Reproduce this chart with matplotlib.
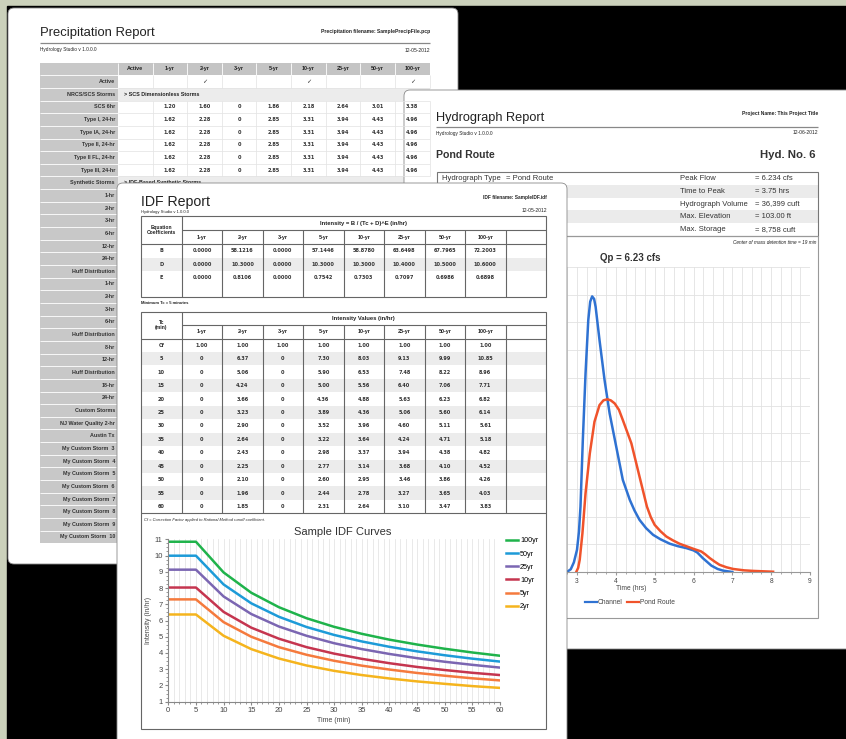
import numpy as np
import matplotlib
matplotlib.use("Agg")
import matplotlib.pyplot as plt
from matplotlib.patches import FancyBboxPatch, Rectangle

plt.rcParams['font.family'] = ['Liberation Sans', 'DejaVu Sans']

W, H = 846, 739

# ---------------- data ----------------
precip_cols = ["Active", "1-yr", "2-yr", "3-yr", "5-yr", "10-yr", "25-yr", "50-yr", "100-yr"]
precip_rows = ["Active", "NRCS/SCS Storms", "SCS 6hr", "Type I, 24-hr", "Type IA, 24-hr",
               "Type II, 24-hr", "Type II FL, 24-hr", "Type III, 24-hr", "Synthetic Storms",
               "1-hr", "2-hr", "3-hr", "6-hr", "12-hr", "24-hr", "Huff Distribution",
               "1-hr", "2-hr", "3-hr", "6-hr", "Huff Distribution", "8-hr", "12-hr",
               "Huff Distribution", "18-hr", "24-hr", "Custom Storms", "NJ Water Quality 2-hr",
               "Austin Tx", "My Custom Storm  3", "My Custom Storm  4", "My Custom Storm  5",
               "My Custom Storm  6", "My Custom Storm  7", "My Custom Storm  8",
               "My Custom Storm  9", "My Custom Storm  10"]
precip_sections = {"NRCS/SCS Storms": "> SCS Dimensionless Storms",
                   "Synthetic Storms": "> IDF-Based Synthetic Storms",
                   "Huff Distribution": "", "Custom Storms": ""}
precip_active = [False, False, True, False, False, True, False, False, True]
scs_6hr = ["", "1.20", "1.60", "0", "1.86", "2.18", "2.64", "3.01", "3.38"]
scs_24hr = ["", "1.62", "2.28", "0", "2.85", "3.31", "3.94", "4.43", "4.96"]
precip_values = {"SCS 6hr": scs_6hr, "Type I, 24-hr": scs_24hr, "Type IA, 24-hr": scs_24hr,
                 "Type II, 24-hr": scs_24hr, "Type II FL, 24-hr": scs_24hr,
                 "Type III, 24-hr": scs_24hr}

hyd_left = [("Hydrograph Type", "= Pond Route"), ("Storm frequency", "= 100 yrs"),
            ("Time interval", "= 2 min"), ("Inflow hyd. No.", "= 5 - Channel"),
            ("Reservoir name", "= Pond")]
hyd_right = [("Peak Flow", "= 6.234 cfs"), ("Time to Peak", "= 3.75 hrs"),
             ("Hydrograph Volume", "= 36,399 cuft"), ("Max. Elevation", "= 103.00 ft"),
             ("Max. Storage", "= 8,758 cuft")]

channel_t = [2.74, 2.84, 2.92, 3.00, 3.05, 3.09, 3.15, 3.22, 3.29, 3.34, 3.39, 3.44, 3.48,
             3.58, 3.71, 3.84, 4.01, 4.18, 4.36, 4.48, 4.61, 4.78, 4.96, 5.15, 5.39, 5.60,
             5.82, 6.00, 6.10, 6.24, 6.46, 6.62, 6.76, 7.00]
channel_q = [0.0, 0.10, 0.35, 0.80, 1.45, 2.36, 4.76, 7.16, 9.08, 9.75, 9.94, 9.85, 9.56,
             8.36, 6.92, 5.72, 4.52, 3.32, 2.60, 2.22, 1.88, 1.58, 1.34, 1.18, 1.02, 0.93,
             0.86, 0.78, 0.70, 0.50, 0.23, 0.11, 0.05, 0.0]
pond_t = [2.98, 3.03, 3.07, 3.14, 3.22, 3.33, 3.45, 3.58, 3.68, 3.78, 3.87, 3.97, 4.08,
          4.18, 4.40, 4.61, 4.80, 4.90, 5.00, 5.15, 5.30, 5.47, 5.64, 5.99, 6.20, 6.30,
          6.42, 6.55, 6.67, 6.85, 7.02, 7.30, 7.53, 8.05]
pond_q = [0.0, 0.15, 0.44, 1.40, 2.84, 4.28, 5.42, 6.02, 6.19, 6.23, 6.19, 6.08, 5.85,
          5.48, 4.64, 3.44, 2.36, 1.98, 1.70, 1.47, 1.28, 1.14, 1.02, 0.84, 0.74, 0.64,
          0.50, 0.37, 0.26, 0.17, 0.11, 0.06, 0.04, 0.01]

idf_cols = ["1-yr", "2-yr", "3-yr", "5-yr", "10-yr", "25-yr", "50-yr", "100-yr", ""]
coef_B = ["0.0000", "58.1216", "0.0000", "57.1446", "58.8780", "63.6498", "67.7965", "72.2003"]
coef_D = ["0.0000", "10.3000", "0.0000", "10.3000", "10.3000", "10.4000", "10.5000", "10.6000"]
coef_E = ["0.0000", "0.8106", "0.0000", "0.7542", "0.7303", "0.7097", "0.6986", "0.6898"]

tc = [5, 10, 15, 20, 25, 30, 35, 40, 45, 50, 55, 60]
i_2yr = [6.37, 5.06, 4.24, 3.66, 3.23, 2.90, 2.64, 2.43, 2.25, 2.10, 1.96, 1.85]
i_5yr = [7.30, 5.90, 5.00, 4.36, 3.89, 3.52, 3.22, 2.98, 2.77, 2.60, 2.44, 2.31]
i_10yr = [8.03, 6.53, 5.56, 4.88, 4.36, 3.96, 3.64, 3.37, 3.14, 2.95, 2.78, 2.64]
i_25yr = [9.13, 7.48, 6.40, 5.63, 5.06, 4.60, 4.24, 3.94, 3.68, 3.46, 3.27, 3.10]
i_50yr = [9.99, 8.22, 7.06, 6.23, 5.60, 5.11, 4.71, 4.38, 4.10, 3.86, 3.65, 3.47]
i_100yr = [10.85, 8.96, 7.71, 6.82, 6.14, 5.61, 5.18, 4.82, 4.52, 4.26, 4.03, 3.83]

# ---------------- helpers ----------------
fig = plt.figure(figsize=(W / 100, H / 100), dpi=100)


def px(x0, y0, x1, y1):
    return [x0 / W, 1 - y1 / H, (x1 - x0) / W, (y1 - y0) / H]


def layer(z):
    a = fig.add_axes([0, 0, 1, 1], zorder=z)
    a.set_xlim(0, W)
    a.set_ylim(H, 0)
    a.axis("off")
    a.patch.set_visible(False)
    return a


def page(a, x0, y0, x1, y1):
    a.add_patch(FancyBboxPatch((x0, y0), x1 - x0, y1 - y0,
                               boxstyle="round,pad=0,rounding_size=6",
                               fc="white", ec="#8a8a8a", lw=0.6))


def hline(a, y, x0, x1, c="#666666", lw=0.8):
    a.plot([x0, x1], [y, y], color=c, lw=lw, solid_capstyle="butt")


def vline(a, x, y0, y1, c="#666666", lw=0.8):
    a.plot([x, x], [y0, y1], color=c, lw=lw, solid_capstyle="butt")


def txt(a, x, y, s, size=4, ha="center", weight="normal", style="normal", c="#222222"):
    a.text(x, y, s, fontsize=size, ha=ha, va="center", fontweight=weight,
           fontstyle=style, color=c)


SMALL = 3.9


def num(a, x, y, s):
    # tiny table numbers: a wider face keeps the decimal point visible
    a.text(x, y, s, fontsize=3.6, ha="center", va="center", color="#333333",
           family="DejaVu Sans", fontweight="bold")


# ---------------- background ----------------
bg = layer(0)
bg.add_patch(Rectangle((0, 0), W, H, color="#cbd1bb"))
bg.add_patch(Rectangle((7, 6), W, H, color="black"))

# ---------------- precipitation page ----------------
page(bg, 8, 8, 458, 564)
txt(bg, 40, 33, "Precipitation Report", size=9.4, ha="left")
txt(bg, 430, 31, "Precipitation filename: SamplePrecipFile.pcp", size=3.6, ha="right", weight="bold")
hline(bg, 42.5, 40, 430, c="#888888", lw=0.9)
txt(bg, 40, 50, "Hydrology Studio v 1.0.0.0", size=3.4, ha="left")
txt(bg, 430, 50, "12-05-2012", size=3.6, ha="right")

tx0, tlab, tx1 = 40, 118, 429.5
pcw = (tx1 - tlab) / len(precip_cols)
prh = 12.65
pty = 62.6
n_rows = len(precip_rows) + 1
bg.add_patch(Rectangle((tx0, pty), tx1 - tx0, prh, fc="#c4c4c4", ec="none"))
bg.add_patch(Rectangle((tx0, pty), tlab - tx0, prh * n_rows, fc="#c8c8c8", ec="none"))
for j, c in enumerate(precip_cols):
    xc = tlab + pcw * (j + 0.5)
    txt(bg, xc, pty + prh / 2, c, size=SMALL, weight="bold")
    vline(bg, tlab + pcw * j, pty, pty + prh, c="white", lw=0.6)
for k, name in enumerate(precip_rows):
    y = pty + prh * (k + 1)
    yc = y + prh / 2
    txt(bg, tlab - 3, yc, name, size=SMALL, ha="right", weight="bold", c="#333333")
    hline(bg, y, tx0, tlab, c="white", lw=0.6)
    if name in precip_sections:
        bg.add_patch(Rectangle((tlab, y), tx1 - tlab, prh, fc="#ececec", ec="none"))
        txt(bg, tlab + 6, yc, precip_sections[name], size=SMALL, ha="left", weight="bold")
    else:
        for j in range(len(precip_cols)):
            vline(bg, tlab + pcw * (j + 1), y, y + prh, c="#e2e2e2", lw=0.5)
        if name == "Active":
            for j, on in enumerate(precip_active):
                if on:
                    bg.text(tlab + pcw * (j + 0.5), yc, "\u2713", fontsize=4.5, ha="center",
                            va="center", color="#333333", family="DejaVu Sans")
        elif name in precip_values:
            for j, v in enumerate(precip_values[name]):
                num(bg, tlab + pcw * (j + 0.5), yc, v)
    hline(bg, y + prh, tlab, tx1, c="#e2e2e2", lw=0.5)

# ---------------- hydrograph page ----------------
page(bg, 404, 90, 860, 649)
txt(bg, 436, 118, "Hydrograph Report", size=9.2, ha="left")
txt(bg, 818, 114, "Project Name: This Project Title", size=3.6, ha="right", weight="bold")
hline(bg, 127, 436, 818, c="#888888", lw=0.9)
txt(bg, 436, 133, "Hydrology Studio v 1.0.0.0", size=3.4, ha="left")
txt(bg, 818, 133, "12-06-2012", size=3.6, ha="right")
txt(bg, 436, 155, "Pond Route", size=7.6, ha="left", weight="bold", c="#333333")
txt(bg, 816, 155, "Hyd. No. 6", size=8.2, ha="right", weight="bold", c="#333333")
hb0, hb1, hrh = 172, 236, 12.8
for k in range(5):
    y = hb0 + hrh * k
    if k % 2 == 1:
        bg.add_patch(Rectangle((437, y), 381, hrh, fc="#ebebeb", ec="none"))
    yc = y + hrh / 2
    txt(bg, 442, yc, hyd_left[k][0], size=5.5, ha="left", c="#333333")
    txt(bg, 506, yc, hyd_left[k][1], size=5.5, ha="left", c="#333333")
    txt(bg, 680, yc, hyd_right[k][0], size=5.5, ha="left", c="#333333")
    txt(bg, 755, yc, hyd_right[k][1], size=5.5, ha="left", c="#333333")
bg.add_patch(Rectangle((437, hb0), 381, hb1 - hb0, fc="none", ec="#777777", lw=0.8))
bg.add_patch(Rectangle((437, hb1), 381, 618 - hb1, fc="none", ec="#999999", lw=0.8))
txt(bg, 816, 242, "Center of mass detention time = 19 min", size=3.4, ha="right", style="italic")
txt(bg, 600, 258, "Qp = 6.23 cfs", size=7, ha="left", weight="bold", c="#333333")
txt(bg, 631, 589, "Time (hrs)", size=4.8, c="#444444")
bg.plot([585, 597], [602, 602], color="#2f72d2", lw=1.6)
txt(bg, 598, 602, "Channel", size=4.8, ha="left", c="#444444")
bg.plot([627, 639], [602, 602], color="#f0532b", lw=1.6)
txt(bg, 640, 602, "Pond Route", size=4.8, ha="left", c="#444444")

axH = fig.add_axes(px(460.5, 267, 810, 572), zorder=1)
axH.patch.set_visible(False)
axH.set_xlim(0, 9)
axH.set_ylim(0, 11)
axH.set_xticks(np.arange(0, 10, 1))
axH.set_xticks(np.arange(0, 9.01, 0.25), minor=True)
axH.set_yticks(np.arange(0, 12, 1))
axH.grid(which="both", axis="x", color="#e2e2e2", lw=0.6)
axH.grid(which="major", axis="y", color="#e2e2e2", lw=0.6)
for s in ["left", "top", "right"]:
    axH.spines[s].set_visible(False)
axH.spines["bottom"].set_color("#999999")
axH.tick_params(axis="y", left=False, labelleft=False)
axH.tick_params(axis="x", which="major", length=2.5, color="#999999", labelsize=4.8,
                labelcolor="#444444", pad=1.5)
axH.tick_params(axis="x", which="minor", length=1.5, color="#999999")
axH.plot(channel_t, channel_q, color="#2f72d2", lw=1.8)
axH.plot(pond_t, pond_q, color="#f0532b", lw=1.8)

# ---------------- IDF page ----------------
ov = layer(2)
page(ov, 117, 183, 567, 770)
txt(ov, 141, 202, "IDF Report", size=10.2, ha="left")
txt(ov, 141, 212.5, "Hydrology Studio v 1.0.0.0", size=3.0, ha="left")
txt(ov, 547, 197, "IDF filename: SampleIDF.idf", size=3.4, ha="right", weight="bold")
txt(ov, 547, 211, "12-05-2012", size=3.6, ha="right")

ix0, ilab, ix1 = 141, 181.7, 546
icw = (ix1 - ilab) / len(idf_cols)

# coefficient table
c0, c1, c2, c3 = 216, 230, 244, 297
crh = 13.5
ov.add_patch(Rectangle((ix0, c2 + crh), ix1 - ix0, crh, fc="#ececec", ec="none"))
ov.add_patch(Rectangle((ix0, c0), ix1 - ix0, c3 - c0, fc="none", ec="#666666", lw=0.8))
hline(ov, c1, ilab, ix1)
hline(ov, c2, ix0, ix1)
vline(ov, ilab, c0, c3)
txt(ov, (ix0 + ilab) / 2, (c0 + c2) / 2, "Equation\nCoefficients", size=3.6, weight="bold")
txt(ov, (ilab + ix1) / 2, (c0 + c1) / 2, "Intensity = B / (Tc + D)^E (in/hr)", size=4.2, weight="bold")
for j, c in enumerate(idf_cols):
    xc = ilab + icw * (j + 0.5)
    txt(ov, xc, (c1 + c2) / 2, c, size=SMALL, weight="bold")
    if j > 0:
        vline(ov, ilab + icw * j, c1, c3)
for k, (lab, vals) in enumerate([("B", coef_B), ("D", coef_D), ("E", coef_E)]):
    yc = c2 + crh * (k + 0.5)
    num(ov, (ix0 + ilab) / 2, yc, lab)
    for j, v in enumerate(vals):
        num(ov, ilab + icw * (j + 0.5), yc, v)
txt(ov, 141, 302.5, "Minimum Tc = 5 minutes", size=3.0, ha="left", weight="bold")

# intensity table
t0, t1, t2 = 311.7, 325, 338.5
trh = 13.45
int_rows = [("Cf", ["1.00"] * 8)]
for n, t in enumerate(tc):
    vals = [i_2yr[n], i_5yr[n], i_10yr[n], i_25yr[n], i_50yr[n], i_100yr[n]]
    int_rows.append((str(t), ["0", "%.2f" % vals[0], "0", "%.2f" % vals[1], "%.2f" % vals[2],
                              "%.2f" % vals[3], "%.2f" % vals[4], "%.2f" % vals[5]]))
t3 = t2 + trh * len(int_rows)
for k, (lab, vals) in enumerate(int_rows):
    y = t2 + trh * k
    if k % 2 == 1:
        ov.add_patch(Rectangle((ix0, y), ix1 - ix0, trh, fc="#ececec", ec="none"))
    num(ov, (ix0 + ilab) / 2, y + trh / 2, lab)
    for j, v in enumerate(vals):
        num(ov, ilab + icw * (j + 0.5), y + trh / 2, v)
ov.add_patch(Rectangle((ix0, t0), ix1 - ix0, 729 - t0, fc="none", ec="#666666", lw=0.8))
hline(ov, t1, ilab, ix1)
hline(ov, t2, ix0, ix1)
hline(ov, t3, ix0, ix1)
vline(ov, ilab, t0, t3)
for j, c in enumerate(idf_cols):
    txt(ov, ilab + icw * (j + 0.5), (t1 + t2) / 2, c, size=SMALL, weight="bold")
    if j > 0:
        vline(ov, ilab + icw * j, t1, t3)
txt(ov, (ix0 + ilab) / 2, (t0 + t2) / 2, "Tc\n(min)", size=3.6, weight="bold")
txt(ov, (ilab + ix1) / 2, (t0 + t1) / 2, "Intensity Values (in/hr)", size=4.2, weight="bold")
txt(ov, 144, 520, "Cf = Correction Factor applied to Rational Method runoff coefficient.", size=2.9,
    ha="left", style="italic")
txt(ov, 343, 532, "Sample IDF Curves", size=8, c="#333333")

# IDF chart
axI = fig.add_axes(px(168.3, 539.3, 500, 701.7), zorder=3)
axI.patch.set_visible(False)
t_plot = [0] + tc
curves = [("100yr", i_100yr, "#1fb34b"), ("50yr", i_50yr, "#1d9bd8"),
          ("25yr", i_25yr, "#7b66b2"), ("10yr", i_10yr, "#c5354f"),
          ("5yr", i_5yr, "#f57a3d"), ("2yr", i_2yr, "#f5b41d")]
for name, vals, col in curves:
    axI.plot(t_plot, [vals[0]] + vals, color=col, lw=1.8, label=name)
axI.set_xlim(0, 60)
axI.set_ylim(1, 11)
axI.set_xticks(np.arange(0, 61, 5))
axI.set_xticks(np.arange(0, 61, 1), minor=True)
axI.set_yticks(np.arange(1, 12, 1))
axI.set_yticks(np.arange(1, 11.01, 0.25), minor=True)
axI.grid(which="both", axis="x", color="#e0e0e0", lw=0.5)
for s in ["top", "right"]:
    axI.spines[s].set_visible(False)
for s in ["left", "bottom"]:
    axI.spines[s].set_color("#888888")
axI.tick_params(which="major", length=2.5, color="#888888", labelsize=5.5,
                labelcolor="#444444", pad=1.5)
axI.tick_params(which="minor", length=1.5, color="#888888")
axI.set_xlabel("Time (min)", fontsize=5, color="#444444", labelpad=2)
axI.set_ylabel("Intensity (in/hr)", fontsize=5, color="#444444", labelpad=2)
axI.legend(loc="upper left", bbox_to_anchor=(1.01, 1.03), frameon=False, fontsize=5.2,
           handlelength=1.6, handletextpad=0.3, labelspacing=0.85, borderaxespad=0)

fig.savefig("out.png", dpi=100)
